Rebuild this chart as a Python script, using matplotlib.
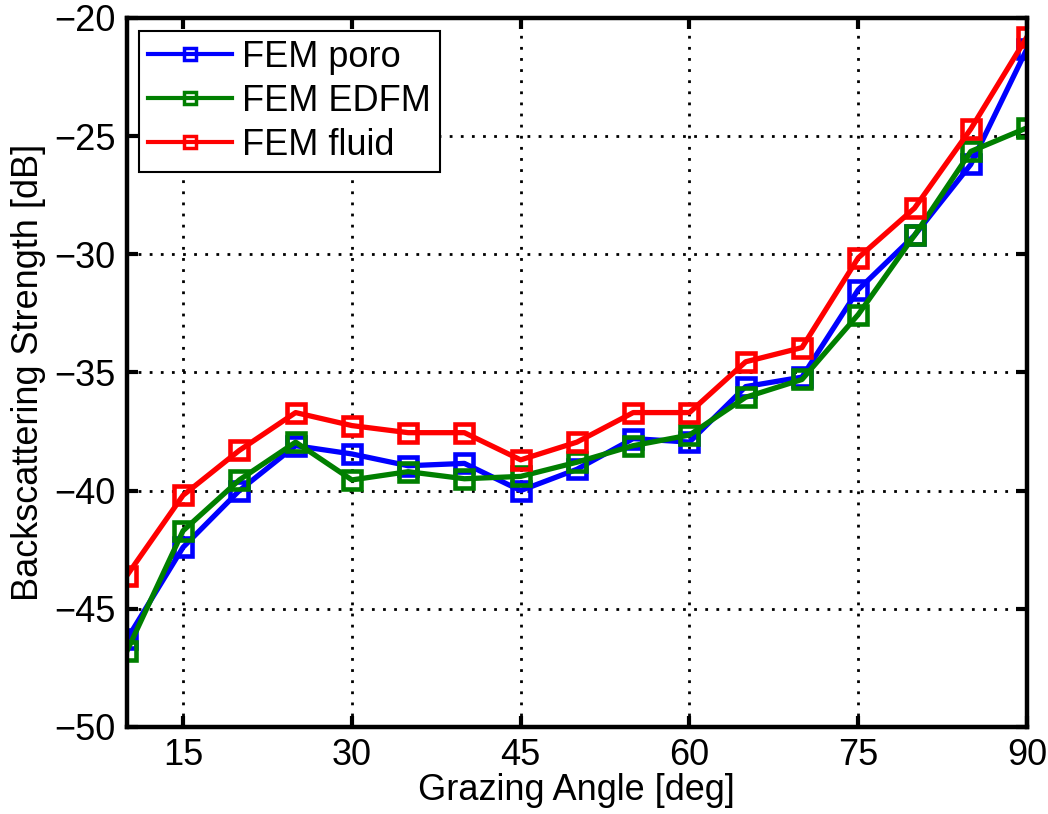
import matplotlib.pyplot as plt
import numpy as np

plt.rcParams['font.family'] = ['Liberation Sans', 'DejaVu Sans']

angle = [10, 15, 20, 25, 30, 35, 40, 45, 50, 55, 60, 65, 70, 75, 80, 85, 90]

poro = [-46.3, -42.4, -40.0, -38.1, -38.45, -38.95, -38.85, -40.0, -39.1,
        -37.8, -37.95, -35.6, -35.2, -31.5, -29.2, -26.2, -21.3]
edfm = [-46.8, -41.7, -39.55, -37.95, -39.55, -39.2, -39.5, -39.4, -38.8,
        -38.1, -37.65, -36.05, -35.3, -32.55, -29.2, -25.65, -24.65]
fluid = [-43.6, -40.2, -38.3, -36.7, -37.25, -37.55, -37.55, -38.7, -37.95,
         -36.7, -36.7, -34.55, -33.95, -30.15, -28.05, -24.7, -20.8]

xticks = [15, 30, 45, 60, 75, 90]
yticks = [-50, -45, -40, -35, -30, -25, -20]

fig = plt.figure(figsize=(10.48, 8.14), dpi=100)
ax = fig.add_axes([0.121, 0.107, 0.859, 0.871])

style = dict(linewidth=3.8, marker='s', markersize=13.5, markerfacecolor='none',
             markeredgewidth=3.3)
ax.plot(angle, poro, color='#0000ff', label='FEM poro', **style)
ax.plot(angle, edfm, color='#007f00', label='FEM EDFM', **style)
ax.plot(angle, fluid, color='#ff0000', label='FEM fluid', **style)

ax.set_xlim(10, 90)
ax.set_ylim(-50, -20)
ax.set_xticks(xticks)
ax.set_yticks(yticks)
ax.tick_params(direction='in', length=8, width=3, labelsize=26,
               top=True, right=True, pad=8)
for s in ax.spines.values():
    s.set_linewidth(3.2)

ax.grid(True, color='black', linestyle=(0, (1, 3)), linewidth=2)
ax.set_xlabel('Grazing Angle [deg]', fontsize=26, labelpad=0)
ax.set_ylabel('Backscattering Strength [dB]', fontsize=26, labelpad=6)

leg = ax.legend(loc='upper left', fontsize=26, fancybox=False, framealpha=1,
                edgecolor='black', handlelength=2.3, borderaxespad=0.35,
                labelspacing=0.25, handletextpad=0.3, borderpad=0.25)
leg.get_frame().set_linewidth(1.5)
for h in leg.legend_handles:
    h.set_markersize(9)
    h.set_linewidth(3)
    h.set_markeredgewidth(2.5)

fig.savefig('out.png', dpi=100)
